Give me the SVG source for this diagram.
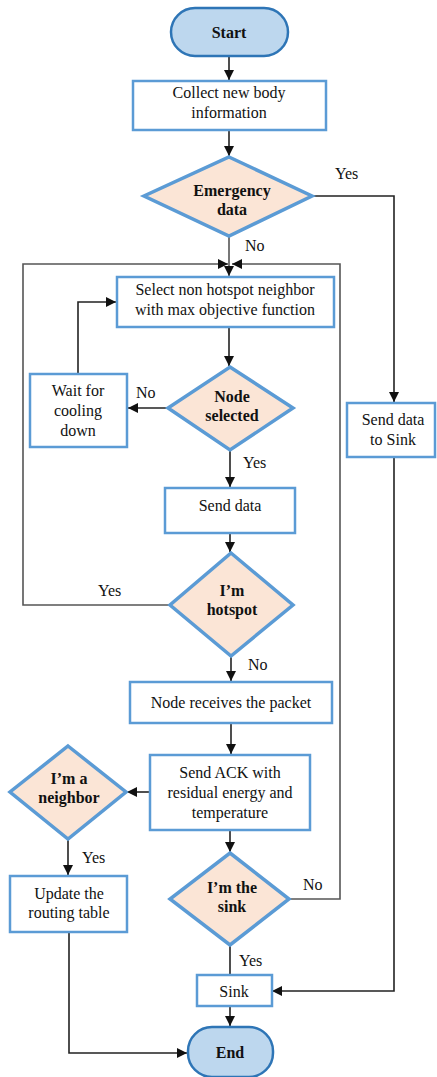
<svg xmlns="http://www.w3.org/2000/svg" width="437" height="1077" viewBox="0 0 437 1077">
<style>
.term{fill:#bdd7ee;stroke:#2e75b6;stroke-width:2.5}
.box{fill:#fff;stroke:#5b9bd5;stroke-width:2.5}
.dec{fill:#fbe5d6;stroke:#5b9bd5;stroke-width:3.5}
text{font-family:"Liberation Serif","Times New Roman",serif;font-size:16px;fill:#111}
.t{text-anchor:middle}
.b{font-weight:bold}
.c{fill:none;stroke:#222;stroke-width:1.6}
.g{fill:none;stroke:#555;stroke-width:1.6}
</style>
<defs>
<marker id="ah" markerUnits="userSpaceOnUse" markerWidth="10" markerHeight="10" viewBox="0 0 10 10" refX="10" refY="5" orient="auto">
<path d="M0,0 L10,5 L0,10 Z" fill="#111"/>
</marker>
</defs>
<rect width="437" height="1077" fill="#fff"/>
<g id="connectors">
<line class="c" x1="229" y1="56" x2="229" y2="80" marker-end="url(#ah)"/>
<line class="c" x1="229" y1="130" x2="229" y2="156" marker-end="url(#ah)"/>
<line class="g" x1="229" y1="236" x2="229" y2="276" marker-end="url(#ah)"/>
<polyline class="c" points="312,196 394,196 394,402" marker-end="url(#ah)"/>
<line class="c" x1="229" y1="327" x2="229" y2="366" marker-end="url(#ah)"/>
<line class="c" x1="168" y1="408" x2="128" y2="408" marker-end="url(#ah)"/>
<polyline class="c" points="78,374 78,302 116,302" marker-end="url(#ah)"/>
<line class="c" x1="230" y1="450" x2="230" y2="487" marker-end="url(#ah)"/>
<line class="c" x1="230" y1="533" x2="230" y2="552" marker-end="url(#ah)"/>
<polyline class="g" points="170,605 23,605 23,264 228,264" marker-end="url(#ah)"/>
<line class="c" x1="231" y1="656" x2="231" y2="681" marker-end="url(#ah)"/>
<line class="c" x1="231" y1="723" x2="231" y2="754" marker-end="url(#ah)"/>
<line class="c" x1="150" y1="792" x2="127" y2="792" marker-end="url(#ah)"/>
<line class="c" x1="68" y1="839" x2="68" y2="875" marker-end="url(#ah)"/>
<polyline class="c" points="69,932 69,1053 187,1053" marker-end="url(#ah)"/>
<line class="c" x1="230" y1="830" x2="230" y2="852" marker-end="url(#ah)"/>
<polyline class="g" points="289,899 340,899 340,264 232,264" marker-end="url(#ah)"/>
<line class="c" x1="230" y1="945" x2="230" y2="975"/>
<polyline class="c" points="394,457 394,991 272,991" marker-end="url(#ah)"/>
<line class="c" x1="230" y1="1006" x2="230" y2="1026" marker-end="url(#ah)"/>
</g>
<g id="start">
<rect class="term" x="171" y="8" width="117" height="48" rx="24"/>
<text class="t b" x="229" y="38">Start</text>
</g>
<g id="collect">
<rect class="box" x="133" y="81" width="193" height="49"/>
<text class="t" x="229" y="98">Collect new body</text>
<text class="t" x="229" y="118">information</text>
</g>
<g id="emergency">
<polygon class="dec" points="229,157 312,196 229,236 144,196"/>
<text class="t b" x="232" y="196">Emergency</text>
<text class="t b" x="232" y="215">data</text>
</g>
<g id="select">
<rect class="box" x="117" y="277" width="217" height="50"/>
<text class="t" x="225" y="295">Select non hotspot neighbor</text>
<text class="t" x="225" y="315">with max objective function</text>
</g>
<g id="nodeselected">
<polygon class="dec" points="230,367 293,408 230,450 168,408"/>
<text class="t b" x="232" y="402">Node</text>
<text class="t b" x="232" y="421">selected</text>
</g>
<g id="wait">
<rect class="box" x="30" y="374" width="97" height="73"/>
<text class="t" x="78" y="396">Wait for</text>
<text class="t" x="78" y="416">cooling</text>
<text class="t" x="78" y="436">down</text>
</g>
<g id="senddata">
<rect class="box" x="165" y="488" width="130" height="45"/>
<text class="t" x="230" y="511">Send data</text>
</g>
<g id="hotspot">
<polygon class="dec" points="231,553 293,605 231,656 170,605"/>
<text class="t b" x="232" y="596">I’m</text>
<text class="t b" x="232" y="615">hotspot</text>
</g>
<g id="receives">
<rect class="box" x="130" y="682" width="202" height="41"/>
<text class="t" x="231" y="708">Node receives the packet</text>
</g>
<g id="sendack">
<rect class="box" x="150" y="755" width="160" height="75"/>
<text class="t" x="230" y="778">Send ACK with</text>
<text class="t" x="230" y="798">residual energy and</text>
<text class="t" x="230" y="818">temperature</text>
</g>
<g id="neighbor">
<polygon class="dec" points="68,746 126,792 68,839 10,792"/>
<text class="t b" x="69" y="784">I’m a</text>
<text class="t b" x="69" y="803">neighbor</text>
</g>
<g id="update">
<rect class="box" x="10" y="876" width="117" height="56"/>
<text class="t" x="69" y="899">Update the</text>
<text class="t" x="69" y="918">routing table</text>
</g>
<g id="imsink">
<polygon class="dec" points="230,853 289,899 230,945 170,899"/>
<text class="t b" x="232" y="893">I’m the</text>
<text class="t b" x="232" y="912">sink</text>
</g>
<g id="sendsink">
<rect class="box" x="347" y="403" width="88" height="54"/>
<text class="t" x="393" y="425">Send data</text>
<text class="t" x="393" y="445">to Sink</text>
</g>
<g id="sink">
<rect class="box" x="197" y="975" width="75" height="31"/>
<text class="t" x="234" y="997">Sink</text>
</g>
<g id="end">
<rect class="term" x="188" y="1027" width="85" height="50" rx="24"/>
<text class="t b" x="230" y="1058">End</text>
</g>
<g id="labels">
<text x="335" y="179">Yes</text>
<text x="245" y="251">No</text>
<text x="136" y="398">No</text>
<text x="243" y="468">Yes</text>
<text x="98" y="596">Yes</text>
<text x="248" y="670">No</text>
<text x="82" y="863">Yes</text>
<text x="303" y="890">No</text>
<text x="239" y="966">Yes</text>
</g>
</svg>
